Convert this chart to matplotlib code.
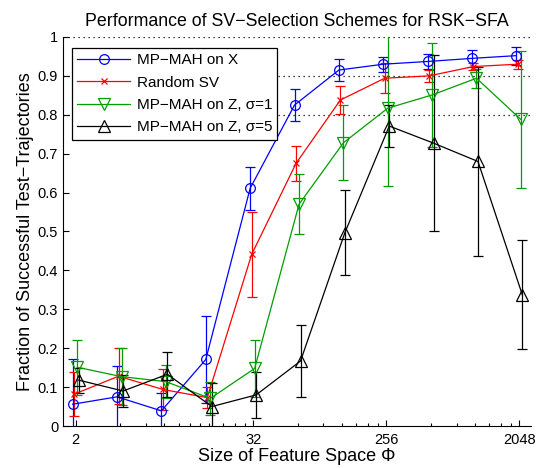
import numpy as np
import matplotlib
matplotlib.use('Agg')
import matplotlib.pyplot as plt
from matplotlib.ticker import FixedLocator, NullFormatter

plt.rcParams['font.family'] = ['Liberation Sans', 'DejaVu Sans']

# Feature space sizes 2^1 .. 2^11
phi = 2.0 ** np.arange(1, 12)

# Mean fraction of successful test trajectories and error bars
mah_x = [0.056, 0.075, 0.039, 0.171, 0.611, 0.825, 0.915, 0.930, 0.937, 0.945, 0.952]
mah_x_err = [0.115, 0.08, 0.045, 0.113, 0.056, 0.042, 0.029, 0.019, 0.02, 0.022, 0.023]

rand_sv = [0.082, 0.128, 0.094, 0.073, 0.441, 0.675, 0.838, 0.894, 0.900, 0.924, 0.930]
rand_sv_err = [0.056, 0.072, 0.053, 0.027, 0.11, 0.044, 0.035, 0.038, 0.015, 0.01, 0.012]

mah_z1 = [0.151, 0.127, 0.114, 0.071, 0.148, 0.570, 0.728, 0.817, 0.851, 0.894, 0.788]
mah_z1_err = [0.07, 0.073, 0.042, 0.042, 0.073, 0.077, 0.096, 0.2, 0.133, 0.024, 0.177]

mah_z5 = [0.118, 0.090, 0.133, 0.050, 0.080, 0.167, 0.497, 0.771, 0.727, 0.680, 0.337]
mah_z5_err = [0.032, 0.04, 0.058, 0.06, 0.06, 0.093, 0.11, 0.055, 0.227, 0.243, 0.14]

fig = plt.figure(figsize=(5.37, 4.68), dpi=100)
ax = fig.add_axes([0.1173, 0.0897, 0.871, 0.8313])

# reference levels
for lvl in [0.8, 0.9, 1.0]:
    ax.axhline(lvl, color='k', linestyle=(0, (1, 3)), linewidth=0.9, zorder=1)

series = [
    (mah_x, mah_x_err, 'b', 'o', 7, 'MP\u2212MAH on X', 2 ** (-3.0 / 44.3)),
    (rand_sv, rand_sv_err, 'r', 'x', 5, 'Random SV', 2 ** (-1.5 / 44.3)),
    (mah_z1, mah_z1_err, (0.0, 0.62, 0.0), 'v', 8, 'MP\u2212MAH on Z, \u03c3=1', 2 ** (1.5 / 44.3)),
    (mah_z5, mah_z5_err, 'k', '^', 8, 'MP\u2212MAH on Z, \u03c3=5', 2 ** (3.0 / 44.3)),
]

handles = []
for vals, errs, col, mk, ms, lab, shift in series:
    cont = ax.errorbar(phi * shift, vals, yerr=errs, color=col, marker=mk, markersize=ms,
                       markerfacecolor='none', markeredgecolor=col, markeredgewidth=0.9,
                       linewidth=0.9, elinewidth=0.9, capsize=3.8, capthick=0.9,
                       label=lab, zorder=3)
    handles.append(cont[0])

ax.set_xscale('log', base=2)
ax.set_xlim(1.64, 2446)
ax.set_ylim(0, 1)
ax.set_xticks([2, 32, 256, 2048])
ax.set_xticklabels(['2', '32', '256', '2048'])
ax.xaxis.set_minor_locator(FixedLocator([4, 6, 8, 10, 12, 14, 16, 20, 24, 28,
                                          64, 96, 128, 160, 192, 224,
                                          512, 768, 1024, 1280, 1536, 1792]))
ax.xaxis.set_minor_formatter(NullFormatter())
ax.set_yticks(np.arange(0, 1.01, 0.1))
ax.set_yticklabels(['0', '0.1', '0.2', '0.3', '0.4', '0.5', '0.6', '0.7', '0.8', '0.9', '1'])

ax.tick_params(which='both', direction='in', labelsize=10.5, width=0.8)
ax.tick_params(which='major', length=4)
ax.tick_params(which='minor', length=2.5)
ax.tick_params(axis='x', pad=5)
ax.spines['top'].set_visible(False)
ax.spines['right'].set_visible(False)
ax.spines['left'].set_linewidth(0.8)
ax.spines['bottom'].set_linewidth(0.8)

ax.set_title('Performance of SV\u2212Selection Schemes for RSK\u2212SFA', fontsize=12.8, pad=8)
ax.set_xlabel('Size of Feature Space \u03a6', fontsize=13, labelpad=1)
ax.set_ylabel('Fraction of Successful Test\u2212Trajectories', fontsize=13, labelpad=3)

leg = ax.legend(handles=handles, labels=[s[5] for s in series],
                loc='upper left', bbox_to_anchor=(0.012, 0.98), fontsize=11,
                handlelength=3.5, fancybox=False, framealpha=1, edgecolor='k',
                borderpad=0.35, labelspacing=0.55, handletextpad=0.4, borderaxespad=0.2)
leg.get_frame().set_linewidth(0.9)

plt.savefig('out.png', dpi=100)
